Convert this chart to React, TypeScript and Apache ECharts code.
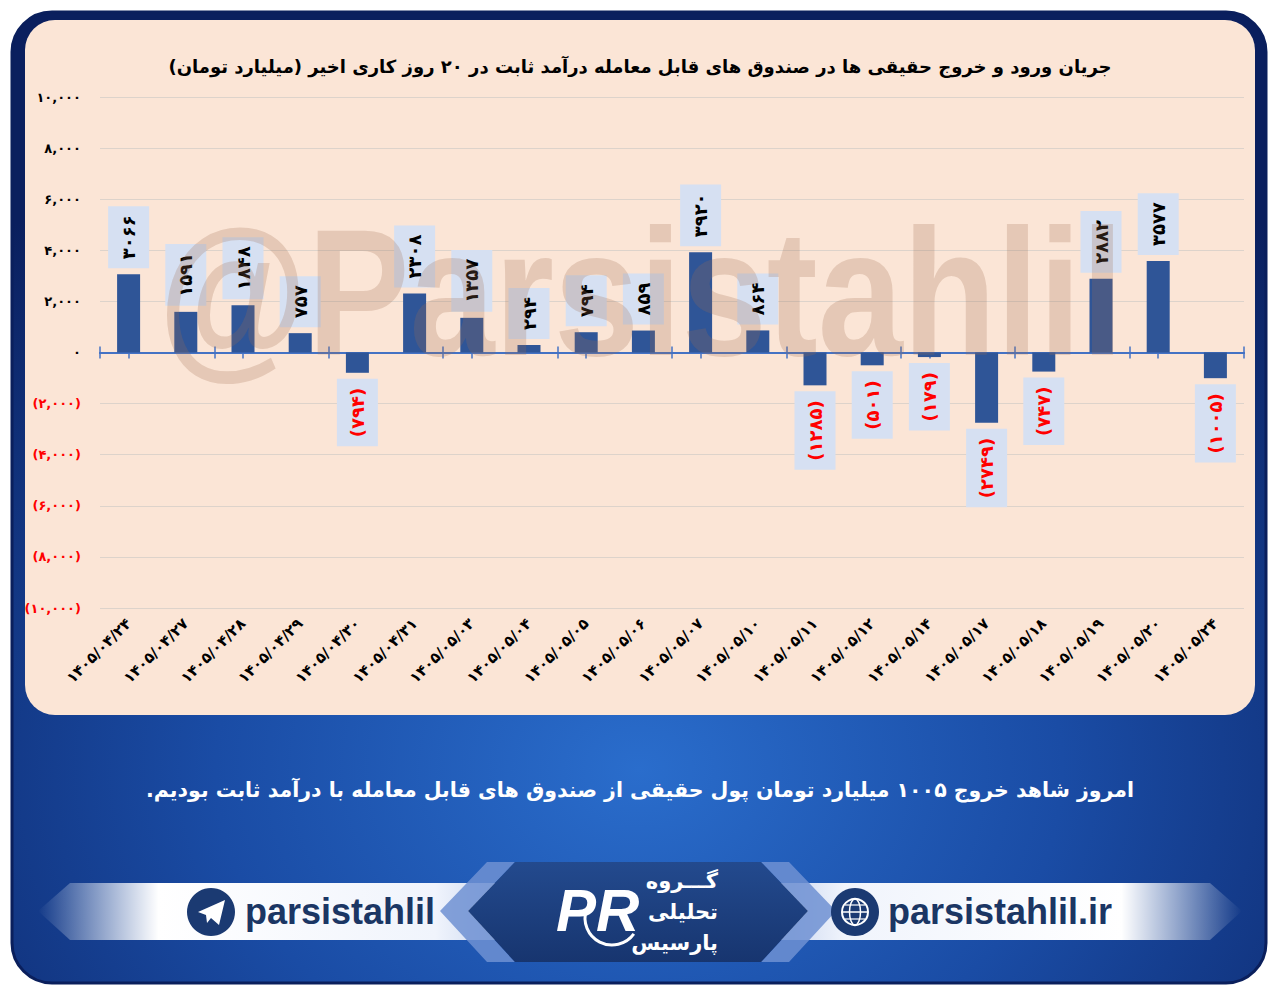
import React, { useEffect, useRef } from 'react';
import * as echarts from 'echarts';

const categories = [
  '۱۴۰۵/۰۴/۲۴', '۱۴۰۵/۰۴/۲۷', '۱۴۰۵/۰۴/۲۸', '۱۴۰۵/۰۴/۲۹', '۱۴۰۵/۰۴/۳۰',
  '۱۴۰۵/۰۴/۳۱', '۱۴۰۵/۰۵/۰۳', '۱۴۰۵/۰۵/۰۴', '۱۴۰۵/۰۵/۰۵', '۱۴۰۵/۰۵/۰۶',
  '۱۴۰۵/۰۵/۰۷', '۱۴۰۵/۰۵/۱۰', '۱۴۰۵/۰۵/۱۱', '۱۴۰۵/۰۵/۱۲', '۱۴۰۵/۰۵/۱۴',
  '۱۴۰۵/۰۵/۱۷', '۱۴۰۵/۰۵/۱۸', '۱۴۰۵/۰۵/۱۹', '۱۴۰۵/۰۵/۲۰', '۱۴۰۵/۰۵/۲۴',
];
const netFlow = [
  3066, 1591, 1848, 757, -794, 2308, 1357, 294, 794, 859,
  3920, 864, -1285, -501, -179, -2749, -747, 2882, 3577, -1005,
];
const yMin = -10000;
const yMax = 10000;
const yStep = 2000;

const titleText = 'جریان ورود و خروج حقیقی ها در صندوق های قابل معامله درآمد ثابت در ۲۰ روز کاری اخیر (میلیارد تومان)';
const messageText = 'امروز شاهد خروج ۱۰۰۵ میلیارد تومان پول حقیقی از صندوق های قابل معامله با درآمد ثابت بودیم.';
const watermarkText = '@Parsistahlil';
const telegramText = 'parsistahlil';
const siteText = 'parsistahlil.ir';
const logoMark = 'PR';
const logoLines = ['گـــروه', 'تحلیلی', 'پارسیس'];

const FONT = '"DejaVu Sans", sans-serif';
const RLM = '\u200F';

const faDigits = '۰۱۲۳۴۵۶۷۸۹';
const toFa = (s: string) => s.replace(/\d/g, (d) => faDigits[Number(d)]);
const fmtThousands = (n: number) => toFa(Math.round(n).toLocaleString('en-US'));
const fmtSigned = (n: number) => (n < 0 ? `(${fmtThousands(-n)})` : fmtThousands(n));
const fmtPlain = (n: number) => (n < 0 ? `(${toFa(String(-n))})` : toFa(String(n)));

export default function App() {
  const ref = useRef<HTMLDivElement>(null);

  useEffect(() => {
    if (!ref.current) return;
    const chart = echarts.init(ref.current, null, { renderer: 'svg' });

    const barData = netFlow.map((v) => ({
      value: v,
      label: {
        position: v >= 0 ? 'top' : 'bottom',
        align: v >= 0 ? 'left' : 'right',
        color: v >= 0 ? '#000000' : '#ff0000',
      },
    }));

    const zeroAxis = (tick: any) => ({
      type: 'category',
      data: categories,
      position: 'bottom',
      axisLine: { show: true, onZero: true, onZeroAxisIndex: 0, lineStyle: { color: '#4472c4', width: 2 } },
      axisTick: { show: true, lineStyle: { color: '#4472c4', width: 1.5 }, ...tick },
      axisLabel: { show: false },
      splitLine: { show: false },
    });

    const option: any = {
      animation: false,
      backgroundColor: '#ffffff',
      textStyle: { fontFamily: FONT },
      title: {
        text: RLM + titleText + RLM,
        left: 'center',
        top: 52,
        textStyle: { fontSize: 18, fontWeight: 'bold', color: '#000000', fontFamily: FONT },
      },
      grid: { left: 100, right: 36, top: 97, bottom: 387 },
      xAxis: [
        {
          type: 'category',
          data: categories,
          position: 'bottom',
          axisLine: { show: false, onZero: false },
          axisTick: { show: false },
          axisLabel: {
            interval: 0,
            rotate: 45,
            margin: 13,
            fontSize: 15,
            fontWeight: 'bold',
            color: '#000000',
            fontFamily: FONT,
          },
          splitLine: { show: false },
        },
        zeroAxis({ length: 6 }),
        zeroAxis({ length: 6, inside: true }),
        zeroAxis({ length: 6, alignWithLabel: true }),
      ],
      yAxis: {
        type: 'value',
        min: yMin,
        max: yMax,
        interval: yStep,
        axisLine: { show: false },
        axisTick: { show: false },
        splitLine: { show: true, lineStyle: { color: '#ddd3cb', width: 1 } },
        axisLabel: {
          margin: 19,
          fontSize: 13,
          fontWeight: 'bold',
          fontFamily: FONT,
          color: (v: any) => (Number(v) < 0 ? '#ff0000' : '#000000'),
          formatter: (v: number) => fmtSigned(v),
        },
      },
      series: [
        {
          type: 'bar',
          xAxisIndex: 0,
          yAxisIndex: 0,
          data: barData,
          barWidth: 23,
          itemStyle: { color: '#2f5597' },
          label: {
            show: true,
            rotate: 90,
            distance: 6,
            verticalAlign: 'middle',
            fontSize: 18,
            fontWeight: 'bold',
            fontFamily: FONT,
            lineHeight: 21,
            backgroundColor: '#d6e0f2',
            padding: [10, 9],
            formatter: (p: any) => fmtPlain(p.value),
          },
        },
      ],
      graphic: [
        {
          type: 'rect',
          z: -10,
          shape: { x: 12, y: 12, width: 1254, height: 971, r: 40 },
          style: {
            fill: new echarts.graphic.RadialGradient(0.5, 0.78, 0.75, [
              { offset: 0, color: '#2a6dcc' },
              { offset: 0.45, color: '#1a4ca5' },
              { offset: 1, color: '#0a1f5e' },
            ]),
            stroke: '#0a1f5c',
            lineWidth: 3,
          },
        },
        {
          type: 'rect',
          z: -9,
          shape: { x: 25, y: 20, width: 1230, height: 695, r: 30 },
          style: { fill: '#fbe5d6' },
        },
        {
          type: 'text',
          z: 100,
          x: 641,
          y: 293,
          scaleX: 0.85,
          silent: true,
          style: {
            text: watermarkText,
            font: 'bold 180px "Liberation Sans", sans-serif',
            fill: 'rgba(160,110,80,0.24)',
            textAlign: 'center',
            textVerticalAlign: 'middle',
          },
        },
        {
          type: 'text',
          z: 5,
          x: 640,
          y: 790,
          style: {
            text: RLM + messageText + RLM,
            font: 'bold 20.5px "DejaVu Sans", sans-serif',
            fill: '#ffffff',
            textAlign: 'center',
            textVerticalAlign: 'middle',
          },
        },
        {
          type: 'polygon',
          z: 1,
          shape: { points: [[38, 911], [70, 883], [1210, 883], [1242, 911], [1210, 940], [70, 940]] },
          style: {
            fill: new echarts.graphic.LinearGradient(0, 0, 1, 0, [
              { offset: 0, color: 'rgba(255,255,255,0)' },
              { offset: 0.1, color: 'rgba(255,255,255,1)' },
              { offset: 0.33, color: 'rgba(240,244,252,1)' },
              { offset: 0.4, color: 'rgba(190,205,235,1)' },
              { offset: 0.6, color: 'rgba(190,205,235,1)' },
              { offset: 0.67, color: 'rgba(240,244,252,1)' },
              { offset: 0.9, color: 'rgba(255,255,255,1)' },
              { offset: 1, color: 'rgba(255,255,255,0)' },
            ]),
          },
        },
        {
          type: 'polygon',
          z: 2,
          shape: { points: [[440, 911], [487, 862], [515, 862], [468, 911], [515, 962], [487, 962]] },
          style: { fill: 'rgba(110,145,210,0.85)' },
        },
        {
          type: 'polygon',
          z: 2,
          shape: { points: [[836, 911], [789, 862], [761, 862], [808, 911], [761, 962], [789, 962]] },
          style: { fill: 'rgba(110,145,210,0.85)' },
        },
        {
          type: 'polygon',
          z: 3,
          shape: { points: [[468, 911], [515, 862], [761, 862], [808, 911], [761, 962], [515, 962]] },
          style: {
            fill: new echarts.graphic.LinearGradient(0, 0, 0, 1, [
              { offset: 0, color: '#234a8e' },
              { offset: 1, color: '#17356f' },
            ]),
          },
        },
        {
          type: 'text',
          z: 4,
          x: 556,
          y: 910,
          style: {
            text: logoMark,
            font: 'italic bold 60px "Liberation Sans", sans-serif',
            fill: '#ffffff',
            textAlign: 'left',
            textVerticalAlign: 'middle',
          },
        },
        {
          type: 'arc',
          z: 4,
          shape: { cx: 612, cy: 918, r: 27, startAngle: Math.PI * 0.2, endAngle: Math.PI * 1.1 },
          style: { stroke: '#ffffff', lineWidth: 3, fill: 'none' },
        },
        ...logoLines.map((t, i) => ({
          type: 'text',
          z: 4,
          x: 718,
          y: 881 + i * 31,
          style: {
            text: RLM + t + RLM,
            font: 'bold 21px "DejaVu Sans", sans-serif',
            fill: '#ffffff',
            textAlign: 'right',
            textVerticalAlign: 'middle',
          },
        })),
        {
          type: 'circle',
          z: 4,
          shape: { cx: 211, cy: 912, r: 24 },
          style: { fill: '#1b3a72' },
        },
        {
          type: 'polygon',
          z: 5,
          shape: { points: [[198, 912], [225, 900], [219, 925], [211, 918], [207, 923], [206, 915]] },
          style: { fill: '#ffffff' },
        },
        {
          type: 'text',
          z: 4,
          x: 245,
          y: 911,
          style: {
            text: telegramText,
            font: 'bold 36px "Liberation Sans", sans-serif',
            fill: '#1b3664',
            textAlign: 'left',
            textVerticalAlign: 'middle',
          },
        },
        {
          type: 'circle',
          z: 4,
          shape: { cx: 855, cy: 912, r: 24 },
          style: { fill: '#1b3a72' },
        },
        {
          type: 'circle',
          z: 5,
          shape: { cx: 855, cy: 912, r: 13 },
          style: { fill: 'none', stroke: '#ffffff', lineWidth: 2 },
        },
        {
          type: 'ellipse',
          z: 5,
          shape: { cx: 855, cy: 912, rx: 5.5, ry: 13 },
          style: { fill: 'none', stroke: '#ffffff', lineWidth: 1.5 },
        },
        {
          type: 'line',
          z: 5,
          shape: { x1: 842, y1: 912, x2: 868, y2: 912 },
          style: { stroke: '#ffffff', lineWidth: 1.5 },
        },
        {
          type: 'line',
          z: 5,
          shape: { x1: 845, y1: 905, x2: 865, y2: 905 },
          style: { stroke: '#ffffff', lineWidth: 1.2 },
        },
        {
          type: 'line',
          z: 5,
          shape: { x1: 845, y1: 919, x2: 865, y2: 919 },
          style: { stroke: '#ffffff', lineWidth: 1.2 },
        },
        {
          type: 'text',
          z: 4,
          x: 888,
          y: 911,
          style: {
            text: siteText,
            font: 'bold 36px "Liberation Sans", sans-serif',
            fill: '#1b3664',
            textAlign: 'left',
            textVerticalAlign: 'middle',
          },
        },
      ],
    };

    chart.setOption(option);
    return () => chart.dispose();
  }, []);

  return (
    <div
      ref={ref}
      style={{ position: 'absolute', left: 0, top: 0, width: 1280, height: 995 }}
    />
  );
}
